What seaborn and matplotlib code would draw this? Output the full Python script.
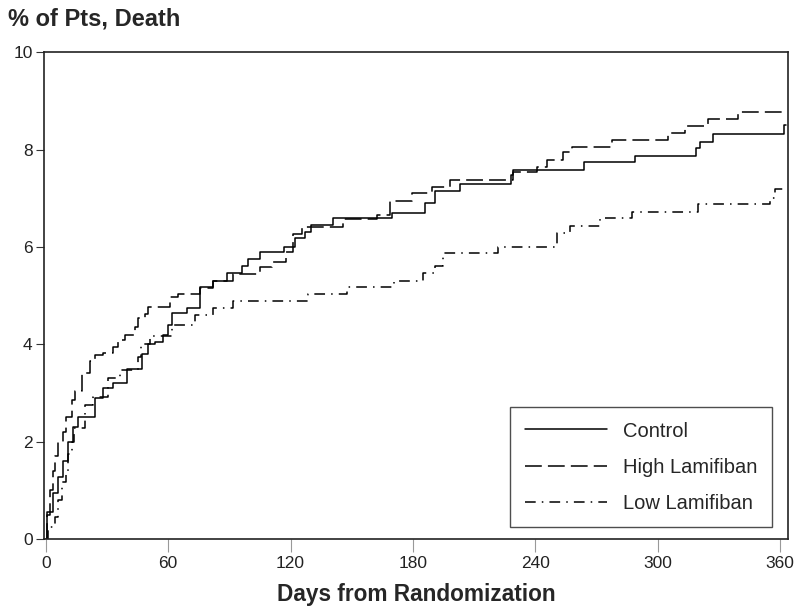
import pandas as pd
import seaborn as sns
import matplotlib.pyplot as plt

# cumulative % of patients dead (step-post)
control_days = [0, 0.5, 3.4, 5.9, 8.3, 10.8, 13.2, 15.7, 24, 28, 33, 40, 47, 50, 53.5,
                57.4, 60, 62, 69, 75.5, 82, 89, 96, 99, 105, 117, 122, 127, 130, 141,
                170, 186, 191, 203, 228, 229, 264, 289, 319, 321, 327, 362, 363]
control_pct = [0, 0.55, 0.95, 1.27, 1.6, 2.0, 2.3, 2.5, 2.9, 3.1, 3.2, 3.5, 3.8, 4.0, 4.05,
               4.2, 4.4, 4.65, 4.75, 5.17, 5.3, 5.46, 5.6, 5.75, 5.9, 6.0, 6.18, 6.3, 6.45, 6.6,
               6.7, 6.9, 7.15, 7.3, 7.47, 7.58, 7.74, 7.87, 8.03, 8.15, 8.32, 8.5, 8.5]

high_days = [0, 0.5, 2, 3.5, 4.4, 6, 8.3, 10, 12.7, 14.5, 17.7, 21.6, 24, 27.9, 32.9, 35.3,
             38.7, 43.6, 45.1, 48.5, 50, 60.8, 64.7, 75.5, 82, 92, 105, 111, 118, 121, 125.5,
             145.7, 162.3, 168.7, 179.5, 189.3, 198, 229, 241, 245.7, 253.6, 258, 277.6,
             305, 313.4, 324.7, 339.4, 363]
high_pct = [0, 0.5, 1.0, 1.4, 1.7, 2.0, 2.2, 2.5, 2.85, 3.05, 3.4, 3.65, 3.78, 3.82, 3.95, 4.08,
            4.2, 4.35, 4.55, 4.63, 4.77, 4.97, 5.03, 5.15, 5.3, 5.45, 5.58, 5.7, 5.9, 6.26, 6.4,
            6.57, 6.65, 6.94, 7.1, 7.23, 7.37, 7.53, 7.64, 7.78, 7.94, 8.05, 8.2,
            8.34, 8.48, 8.62, 8.77, 8.77]

low_days = [0, 1, 4.4, 6, 8, 10, 11, 12.7, 13.7, 19.1, 23, 30.4, 36.3, 45, 46.6, 51, 61.8,
            73, 82, 91.6, 128.5, 147.6, 171, 184.9, 190.8, 194.7, 221.7, 250.6, 257, 272,
            287.5, 319.8, 355, 357.5, 363]
low_pct = [0, 0.25, 0.45, 0.8, 1.17, 1.4, 1.75, 2.0, 2.28, 2.75, 2.92, 3.3, 3.47, 3.74, 4.0, 4.17, 4.4,
           4.6, 4.74, 4.88, 5.03, 5.17, 5.3, 5.46, 5.6, 5.88, 6.0, 6.28, 6.43, 6.59,
           6.72, 6.88, 7.0, 7.18, 7.18]

groups = ["Control", "High Lamifiban", "Low Lamifiban"]

df = pd.concat([
    pd.DataFrame({"day": control_days, "pct": control_pct, "group": groups[0]}),
    pd.DataFrame({"day": high_days, "pct": high_pct, "group": groups[1]}),
    pd.DataFrame({"day": low_days, "pct": low_pct, "group": groups[2]}),
])

sns.set_style("white")
plt.rcParams["font.family"] = ["Liberation Sans", "DejaVu Sans"]

fig = plt.figure(figsize=(7.96, 6.07), dpi=100)
ax = fig.add_axes([0.055, 0.112, 0.935, 0.802])

sns.lineplot(data=df, x="day", y="pct", hue="group", style="group",
             palette={g: "black" for g in groups},
             dashes={"Control": "", "High Lamifiban": (11, 4),
                     "Low Lamifiban": (7, 4, 1, 4)},
             drawstyle="steps-post", estimator=None, sort=False,
             linewidth=1.1, ax=ax)

ax.set_xlim(-1, 364)
ax.set_ylim(0, 10)
ax.set_xticks(range(0, 361, 60))
ax.set_yticks(range(0, 11, 2))
ax.tick_params(axis="y", direction="out", length=6, width=0.8, color="#333333",
               labelsize=12.5, labelcolor="#222222", pad=2, left=True)
ax.tick_params(axis="x", direction="out", length=9, width=0.8, color="#999999",
               labelsize=12.5, labelcolor="#222222", pad=3, bottom=True)
for s in ax.spines.values():
    s.set_color("#222222")
    s.set_linewidth(1.2)

ax.set_xlabel("Days from Randomization", fontsize=16.3, fontweight="bold", labelpad=9)
ax.set_ylabel("")
fig.text(0.01, 0.968, "% of Pts, Death", fontsize=17, fontweight="bold", va="center")

leg = ax.legend(loc="lower right", bbox_to_anchor=(0.978, 0.025), fontsize=14.5,
                handlelength=4.1, labelspacing=0.85, borderpad=0.7, handletextpad=0.8,
                frameon=True, fancybox=False, edgecolor="#222222", borderaxespad=0)
leg.get_frame().set_linewidth(1.0)

fig.savefig("out.png", dpi=100)
